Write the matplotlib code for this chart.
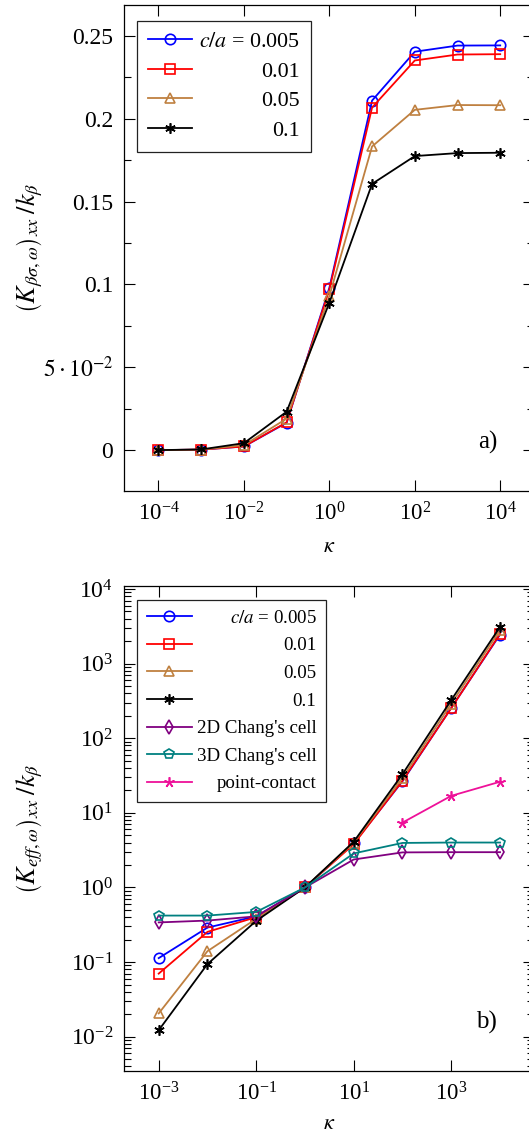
import matplotlib
matplotlib.use("Agg")
import matplotlib.pyplot as plt
from matplotlib.ticker import FixedLocator, FixedFormatter, LogLocator, NullLocator, NullFormatter

plt.rcParams['font.family'] = ['Liberation Serif', 'DejaVu Serif']
plt.rcParams['mathtext.fontset'] = 'stix'

# panel a) data
kappa_a = [1e-4, 1e-3, 1e-2, 1e-1, 1e0, 1e1, 1e2, 1e3, 1e4]
a_005 = [0.0, 0.0003, 0.0022, 0.0165, 0.098, 0.211, 0.2405, 0.2442, 0.2443]
a_01 = [0.0, 0.0003, 0.0022, 0.0168, 0.097, 0.2068, 0.2352, 0.2388, 0.2390]
a_05 = [0.0, 0.0003, 0.0030, 0.0190, 0.093, 0.1833, 0.2054, 0.2083, 0.2082]
a_1 = [0.0, 0.0004, 0.0042, 0.0232, 0.089, 0.1607, 0.1775, 0.1793, 0.1795]

# panel b) data
kappa_b = [1e-3, 1e-2, 1e-1, 1e0, 1e1, 1e2, 1e3, 1e4]
b_005 = [0.113, 0.29, 0.41, 1.0, 3.9, 26.5, 255, 2450]
b_01 = [0.070, 0.254, 0.40, 1.0, 3.8, 27, 253, 2500]
b_05 = [0.0205, 0.14, 0.38, 1.0, 4.0, 29.5, 290, 2800]
b_1 = [0.0122, 0.094, 0.357, 1.0, 4.1, 33, 325, 3100]
chang2d = [0.34, 0.36, 0.41, 1.0, 2.37, 2.95, 2.97, 2.97]
chang3d = [0.42, 0.42, 0.47, 1.0, 2.86, 3.95, 4.0, 4.0]
kappa_pc = [1e2, 1e3, 1e4]
point_contact = [7.4, 16.9, 26.1]

labels_ca = [r'$c/a$ = 0.005', '0.01', '0.05', '0.1']

fig = plt.figure(figsize=(5.29, 11.33), dpi=100)
ax1 = fig.add_axes([0.235, 0.5669, 0.7752, 0.4287])
ax2 = fig.add_axes([0.235, 0.0547, 0.7752, 0.4281])

lw = 1.3
ms = 7.5
mew = 1.2


def style(c, m):
    return dict(color=c, marker=m, lw=lw, ms=ms, mew=mew, mfc='none', mec=c)


ser = [('#0000ff', 'o'), ('#ff0000', 's'), ('#bf8040', '^'), ('black', (6, 2, 0))]

for ys, (c, m), lab in zip([a_005, a_01, a_05, a_1], ser, labels_ca):
    ax1.plot(kappa_a, ys, label=lab, **style(c, m))

for ys, (c, m), lab in zip([b_005, b_01, b_05, b_1], ser, labels_ca):
    ax2.plot(kappa_b, ys, label=lab, **style(c, m))
ax2.plot(kappa_b, chang2d, label="2D Chang's cell", **style('#800080', 'd'))
ax2.plot(kappa_b, chang3d, label="3D Chang's cell", **style('#008080', 'p'))
ax2.plot(kappa_pc, point_contact, label='point-contact', **style('#ee1199', (5, 2, 0)))

# axes a)
ax1.set_xscale('log')
ax1.set_xlim(10 ** -4.8, 10 ** 4.8)
ax1.set_ylim(-0.0245, 0.2687)
ax1.xaxis.set_major_locator(FixedLocator([1e-4, 1e-2, 1e0, 1e2, 1e4]))
ax1.xaxis.set_minor_locator(NullLocator())
ax1.yaxis.set_major_locator(FixedLocator([0, 0.05, 0.1, 0.15, 0.2, 0.25]))
ax1.yaxis.set_major_formatter(FixedFormatter(['0', r'$5\cdot10^{-2}$', '0.1', '0.15', '0.2', '0.25']))
ax1.yaxis.set_minor_locator(FixedLocator([0.025, 0.075, 0.125, 0.175, 0.225]))
ax1.set_xlabel(r'$\kappa$', fontsize=16)
ax1.set_ylabel(r'$\left(K_{\beta\sigma,\omega}\right)_{xx}\;/k_\beta$', fontsize=19)
ax1.text(0.909, 0.10, 'a)', transform=ax1.transAxes, ha='right', va='center', fontsize=18)
ax1.xaxis.set_label_coords(0.5, -0.097)
ax1.yaxis.set_label_coords(-0.193, 0.5)

# axes b)
ax2.set_xscale('log')
ax2.set_yscale('log')
ax2.set_xlim(10 ** -3.705, 10 ** 4.705)
ax2.set_ylim(10 ** -2.46, 10 ** 4.04)
ax2.xaxis.set_major_locator(FixedLocator([1e-3, 1e-1, 1e1, 1e3]))
ax2.xaxis.set_minor_locator(NullLocator())
ax2.yaxis.set_major_locator(FixedLocator([1e-2, 1e-1, 1e0, 1e1, 1e2, 1e3, 1e4]))
ax2.yaxis.set_minor_locator(LogLocator(base=10, subs=range(2, 10), numticks=20))
ax2.yaxis.set_minor_formatter(NullFormatter())
ax2.set_xlabel(r'$\kappa$', fontsize=16)
ax2.set_ylabel(r'$\left(K_{eff,\omega}\right)_{xx}\;/k_\beta$', fontsize=19)
ax2.text(0.909, 0.10, 'b)', transform=ax2.transAxes, ha='right', va='center', fontsize=18)
ax2.xaxis.set_label_coords(0.5, -0.091)
ax2.yaxis.set_label_coords(-0.193, 0.5)

for ax in (ax1, ax2):
    ax.tick_params(which='both', direction='in', top=True, right=True, width=0.8)
    ax.tick_params(axis='x', labelsize=16.5)
    ax.tick_params(axis='y', labelsize=17)
    ax.tick_params(which='major', length=8, pad=8)
    ax.tick_params(which='minor', length=5)
    for sp in ax.spines.values():
        sp.set_linewidth(0.9)

leg1 = ax1.legend(loc='upper left', bbox_to_anchor=(0.0317, 0.9677), borderaxespad=0,
                  fontsize=15.8, fancybox=False, edgecolor='#222222', framealpha=1,
                  handlelength=2.0, handletextpad=0.3, borderpad=0.5, labelspacing=0.42)
leg2 = ax2.legend(loc='upper left', bbox_to_anchor=(0.0317, 0.9711), borderaxespad=0,
                  fontsize=13.6, fancybox=False, edgecolor='#222222', framealpha=1,
                  handlelength=2.4, handletextpad=0.25, borderpad=0.5, labelspacing=0.55)
for leg in (leg1, leg2):
    leg.get_frame().set_linewidth(0.9)

# right-align legend texts: stretch every row to the widest one
fig.canvas.draw()
renderer = fig.canvas.get_renderer()
for leg in (leg1, leg2):
    rows = leg._legend_handle_box.get_children()[0].get_children()
    w = max(r.get_bbox(renderer).width for r in rows)
    for r in rows:
        r.mode = 'expand'
        r.width = w

fig.savefig('out.png', dpi=100)
